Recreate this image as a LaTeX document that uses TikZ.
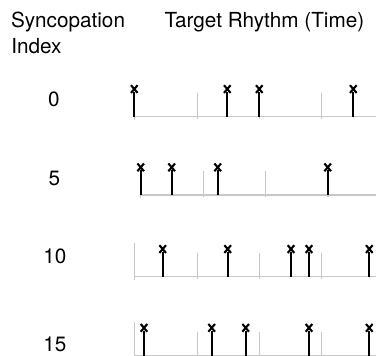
\documentclass[tikz,border=0pt]{standalone}
\usepackage{fontspec}
\setmainfont{TeX Gyre Heros}
\begin{document}
\begin{tikzpicture}[x=1bp,y=-1bp,
  timeline/.style={draw=black!22, line width=1.4bp},
  beat/.style={draw=black!22, line width=1.4bp},
  onset/.style={draw=black, line width=2.3bp},
  hit/.style={draw=black, line width=2.1bp},
  lbl/.style={font=\fontsize{20.8}{25}\selectfont, inner sep=0pt, outer sep=0pt}]
\useasboundingbox (0,0) rectangle (376,356);

% headings
\node[lbl, anchor=base west] (synco) at (11,27.3) {Syncopation};
\node[lbl, anchor=base west] (index) at (11.4,53.3) {Index};
\node[lbl, anchor=base west] (target) at (164.5,27.3) {Target Rhythm (Time)};

% syncopation index of each row
\node[lbl] (s0)  at (54,99.2)    {0};
\node[lbl] (s5)  at (54.5,178)   {5};
\node[lbl] (s10) at (55,256.3)   {10};
\node[lbl] (s15) at (55,344.2)   {15};

% one rhythm row: #1 baseline y, #2 start x, #3 start-tick height,
% #4 beat ticks, #5 onsets
\newcommand\rhythmrow[5]{%
  \draw[timeline] (#2,#1) -- (376,#1);
  \draw[beat] (#2,#1+3) -- (#2,#1-#3);
  \foreach \b in {#4} {\draw[beat] (\b,#1+2) -- (\b,#1-24);}
  \foreach \o in {#5} {%
    \draw[onset] (\o,#1) -- (\o,#1-25);
    \draw[hit] (\o-3.3,#1-31.5) -- (\o+3.3,#1-23.8)
               (\o-3.3,#1-23.8) -- (\o+3.3,#1-31.5);
  }%
}

\rhythmrow{116.7}{134.3}{24}{197.7,259.3,321.7}{134.3,227.3,259.3,353.3}
\rhythmrow{195}{140.7}{24}{203.3,265.7,328}{140.7,171.7,217.7,327.7}
\rhythmrow{276.7}{134.3}{34}{197.7,259.3,321.7}{162.7,227.7,291,309,369.3}
\rhythmrow{355.5}{134.3}{34}{197.7,259.3,321.7}{144,211.7,245.7,309,369.3}
\end{tikzpicture}
\end{document}
